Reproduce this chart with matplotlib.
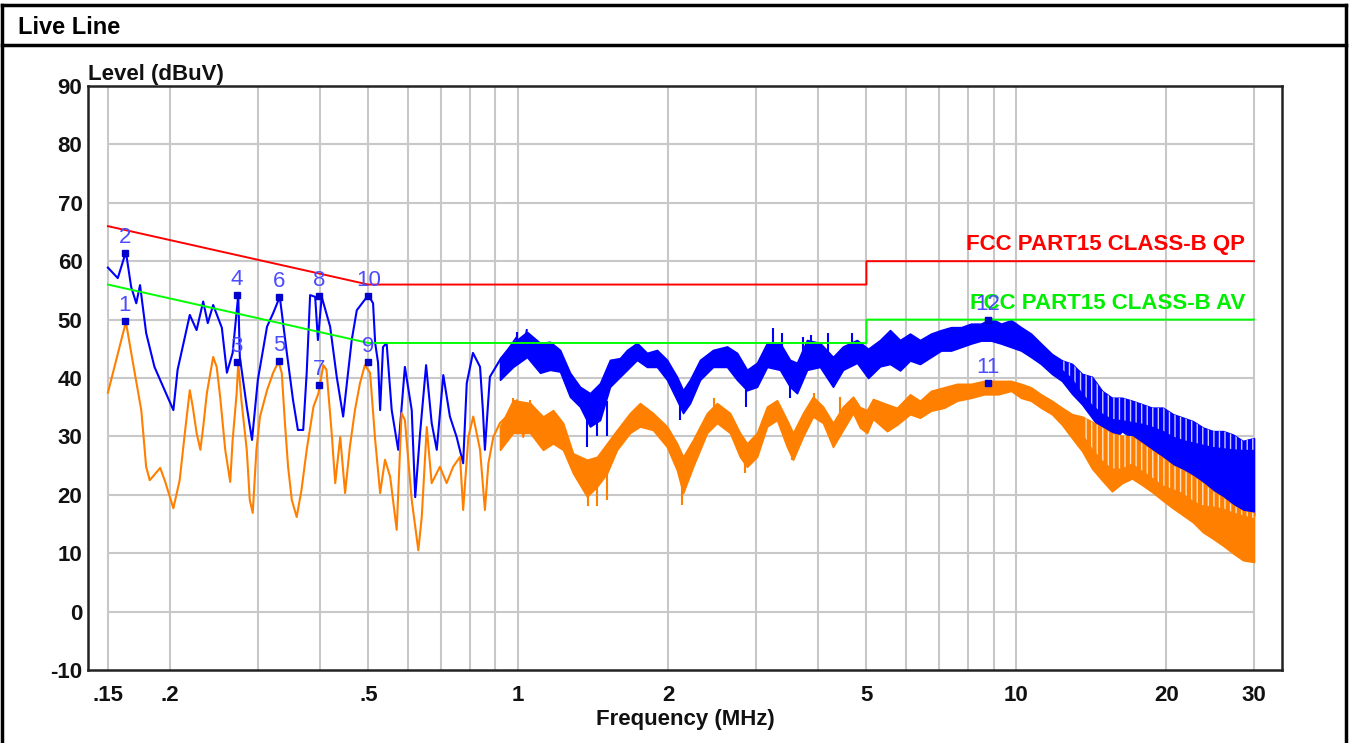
import numpy as np
import matplotlib
matplotlib.use("Agg")
import matplotlib.pyplot as plt
from matplotlib.lines import Line2D

plt.rcParams['font.family'] = ['Liberation Sans', 'DejaVu Sans']
plt.rcParams['axes.unicode_minus'] = False
plt.rcParams['hatch.linewidth'] = 1.0

# limit lines (MHz, dBuV)
qp_freq = [0.15, 0.5, 5, 5, 30]
qp_level = [66, 56, 56, 60, 60]
av_freq = [0.15, 0.5, 5, 5, 30]
av_level = [56, 46, 46, 50, 50]

# peak scan, low band read as a line
blue_freq = [0.150, 0.157, 0.163, 0.167, 0.171, 0.174, 0.179, 0.186, 0.203, 0.207,
             0.219, 0.226, 0.233, 0.238, 0.244, 0.254, 0.260, 0.267, 0.274, 0.276,
             0.285, 0.292, 0.300, 0.313, 0.322, 0.332, 0.343, 0.353, 0.361, 0.370,
             0.376, 0.382, 0.391, 0.396, 0.403, 0.419, 0.432, 0.445, 0.463, 0.474,
             0.500, 0.511, 0.516, 0.523, 0.528, 0.535, 0.544, 0.557, 0.574, 0.592,
             0.611, 0.621, 0.635, 0.653, 0.670, 0.686, 0.707, 0.729, 0.752, 0.775,
             0.788, 0.811, 0.838, 0.849, 0.857, 0.877, 0.919, 0.962, 0.993, 1.016, 1.040]
blue_level = [58.9, 57.1, 61.6, 55.6, 52.8, 55.9, 47.7, 41.9, 34.5, 41.4,
              50.8, 48.2, 53.1, 49.4, 52.5, 48.6, 40.9, 44.3, 54.2, 43.6,
              35.1, 29.4, 39.7, 48.8, 51.1, 53.9, 44.3, 36.2, 31.1, 31.1,
              40.9, 54.2, 53.9, 46.5, 53.9, 48.8, 40.2, 33.4, 46.5, 51.6,
              54.2, 52.8, 46.0, 42.6, 34.5, 45.3, 46.0, 34.5, 27.7, 41.9,
              34.5, 19.6, 30.5, 42.2, 32.3, 27.7, 40.5, 33.4, 29.9, 25.4,
              39.1, 44.3, 41.9, 34.5, 27.7, 40.2, 43.1, 45.3, 47.0, 43.1, 48.2]

# peak scan, dense part read as low / high envelope
blue_band_freq = [0.919, 0.976, 1.041, 1.106, 1.158, 1.213, 1.270, 1.330, 1.393, 1.459,
                  1.528, 1.600, 1.653, 1.731, 1.813, 1.899, 1.989, 2.083, 2.142, 2.212,
                  2.317, 2.460, 2.625, 2.749, 2.879, 3.015, 3.158, 3.353, 3.512, 3.627,
                  3.799, 4.034, 4.284, 4.487, 4.787, 5.04, 5.325, 5.577, 5.841, 6.116,
                  6.406, 6.740, 7.060, 7.394, 7.745, 8.110, 8.494, 8.896, 9.318, 9.758,
                  10.22, 10.70, 11.21, 11.79, 12.35, 12.94, 13.55, 14.19, 14.86, 15.56,
                  16.30, 17.07, 17.88, 18.72, 19.70, 20.63, 21.61, 22.63, 23.70, 24.82,
                  26.01, 27.23, 28.52, 30.0]
blue_band_lo = [39.7, 41.9, 43.6, 40.9, 41.4, 41.1, 36.8, 35.1, 31.7, 32.8,
                38.5, 40.2, 41.4, 43.1, 41.9, 41.9, 39.7, 36.2, 34.0, 35.7,
                39.7, 41.9, 41.9, 39.7, 37.9, 38.5, 41.9, 41.4, 38.5, 37.4,
                41.4, 41.9, 38.5, 41.4, 42.6, 40.0, 42.0, 42.4, 41.3, 43.0,
                42.4, 43.6, 44.7, 44.7, 45.3, 45.9, 46.4, 46.4, 45.9, 45.3,
                44.7, 43.6, 42.4, 40.7, 39.5, 37.3, 35.5, 33.2, 30.9, 29.2,
                30.9, 29.7, 28.0, 26.9, 25.1, 23.4, 22.3, 21.1, 20.0, 18.8,
                17.7, 17.1, 16.5, 16.5]
blue_band_hi = [43.4, 46.0, 47.9, 46.0, 46.2, 44.8, 40.9, 38.5, 37.4, 39.1,
                43.1, 43.4, 44.8, 46.0, 44.3, 44.8, 43.1, 40.2, 37.9, 39.7,
                43.1, 44.8, 45.4, 44.3, 41.4, 42.6, 46.0, 46.0, 43.1, 42.6,
                46.5, 46.0, 43.6, 45.4, 46.5, 45.0, 46.5, 48.2, 46.5, 47.6,
                46.5, 47.6, 48.2, 48.7, 48.7, 49.3, 49.3, 50.2, 49.3, 49.9,
                48.7, 47.6, 45.9, 44.1, 43.0, 42.4, 40.7, 40.2, 37.8, 36.6,
                36.6, 36.1, 35.5, 34.9, 34.9, 33.8, 33.2, 32.6, 31.5, 30.9,
                30.9, 30.3, 29.2, 29.7]
# above 12 MHz the top of the blue band is made of thin separate strokes
blue_streak_freq = blue_band_freq[54:]
blue_streak_base = [41.5, 40.0, 37.5, 35.5, 34.0, 33.0, 32.8, 32.5, 32.2, 31.7,
                    31.0, 30.0, 29.4, 29.0, 28.6, 28.2, 28.0, 27.8, 27.7, 27.7]

# single spikes out of the peak band: freq, from, to
blue_spike_freq = [0.993, 3.242, 3.38, 3.735, 3.87, 4.19, 4.67, 1.372, 1.44, 1.51, 2.11, 2.87, 3.51]
blue_spike_from = [45.0, 44.0, 44.0, 44.0, 44.0, 44.0, 44.0, 34.0, 34.0, 36.0, 36.0, 39.0, 40.0]
blue_spike_to = [47.9, 48.6, 47.7, 47.1, 47.4, 47.7, 47.7, 28.2, 30.0, 30.0, 32.8, 35.1, 36.6]

# average scan, low band read as a line
orange_freq = [0.150, 0.163, 0.168, 0.175, 0.179, 0.182, 0.191, 0.195, 0.203, 0.209,
               0.214, 0.219, 0.222, 0.226, 0.230, 0.233, 0.237, 0.244, 0.248, 0.252,
               0.258, 0.264, 0.267, 0.272, 0.274, 0.278, 0.285, 0.289, 0.293, 0.298,
               0.303, 0.313, 0.322, 0.330, 0.335, 0.340, 0.345, 0.351, 0.359, 0.367,
               0.376, 0.388, 0.397, 0.406, 0.412, 0.422, 0.429, 0.439, 0.449, 0.459,
               0.470, 0.481, 0.492, 0.504, 0.516, 0.528, 0.540, 0.553, 0.570, 0.583,
               0.592, 0.611, 0.630, 0.640, 0.655, 0.670, 0.696, 0.718, 0.740, 0.764,
               0.775, 0.794, 0.812, 0.838, 0.857, 0.871, 0.891, 0.919, 0.948, 0.977,
               0.993, 1.023, 1.056, 1.089]
orange_level = [37.5, 49.6, 43.1, 34.5, 24.8, 22.5, 24.6, 22.5, 17.7, 22.5,
                30.5, 37.9, 35.1, 30.6, 27.7, 31.6, 37.4, 43.6, 41.9, 36.8,
                27.7, 22.2, 29.4, 37.4, 42.6, 36.2, 27.7, 19.1, 16.9, 27.7,
                33.4, 37.9, 40.9, 42.8, 40.9, 32.3, 24.8, 19.1, 16.2, 20.8,
                27.7, 35.1, 37.4, 42.2, 41.4, 30.6, 22.0, 29.9, 20.3, 28.2,
                34.5, 39.1, 42.2, 40.9, 29.4, 20.3, 26.0, 23.1, 14.0, 34.0,
                32.8, 19.1, 10.5, 16.2, 31.6, 22.0, 24.8, 22.0, 24.8, 26.5,
                17.4, 29.9, 33.4, 27.7, 17.4, 25.4, 29.9, 32.3, 33.4, 34.5,
                36.2, 29.9, 35.7, 34.0]

orange_band_freq = [0.919, 0.976, 1.056, 1.121, 1.174, 1.230, 1.288, 1.374, 1.439, 1.507,
                    1.578, 1.676, 1.755, 1.864, 1.989, 2.083, 2.142, 2.243, 2.393, 2.506,
                    2.661, 2.787, 2.879, 3.015, 3.158, 3.307, 3.464, 3.561, 3.730, 3.906,
                    4.091, 4.284, 4.487, 4.700, 4.854, 5.014, 5.155, 5.500, 5.760, 6.116,
                    6.406, 6.740, 7.158, 7.602, 8.110, 8.612, 9.188, 9.758, 10.22, 10.70,
                    11.21, 11.79, 12.35, 12.94, 13.55, 14.19, 14.86, 15.56, 16.30, 17.07,
                    17.88, 18.72, 19.70, 20.63, 21.61, 22.63, 23.70, 24.82, 26.01, 27.23,
                    28.52, 30.0]
orange_band_lo = [27.7, 30.6, 30.6, 27.7, 28.8, 27.7, 23.7, 19.7, 21.4, 23.7,
                  27.7, 30.6, 31.7, 31.1, 28.2, 24.2, 20.3, 24.8, 30.6, 32.3,
                  30.6, 26.5, 24.8, 26.5, 31.7, 32.8, 28.2, 26.0, 30.0, 33.4,
                  32.3, 28.2, 31.1, 34.0, 31.5, 30.6, 33.0, 30.9, 32.0, 33.8,
                  33.2, 34.4, 34.9, 36.1, 36.6, 37.2, 37.2, 37.8, 36.6, 36.1,
                  34.9, 33.8, 32.0, 29.7, 27.5, 24.5, 22.5, 20.6, 22.0, 22.8,
                  21.7, 20.5, 19.0, 17.7, 16.5, 15.3, 13.6, 12.5, 11.3, 10.0,
                  8.8, 8.5]
orange_band_hi = [31.7, 36.2, 35.7, 33.4, 34.5, 32.3, 27.1, 26.0, 26.5, 28.8,
                  31.1, 34.0, 35.7, 34.0, 31.7, 28.8, 26.5, 29.4, 34.0, 35.7,
                  34.0, 30.6, 28.8, 30.6, 35.1, 36.2, 32.8, 30.6, 34.0, 36.8,
                  35.1, 32.3, 35.1, 36.8, 35.0, 34.5, 36.4, 35.5, 34.9, 37.2,
                  36.1, 37.8, 38.4, 39.0, 39.0, 39.5, 39.5, 39.5, 39.0, 38.4,
                  37.2, 36.1, 34.9, 33.8, 33.4, 32.5, 31.5, 30.5, 30.1, 30.0,
                  28.8, 27.6, 26.3, 25.0, 24.2, 23.2, 22.0, 20.6, 19.5, 18.2,
                  17.2, 16.9]
orange_streak_freq = orange_band_freq[54:]
orange_streak_base = [30.6, 28.0, 26.0, 24.5, 24.5, 25.4, 24.2, 23.0, 21.6, 21.0,
                      20.3, 19.0, 18.2, 18.0, 17.7, 17.0, 16.5, 16.0]

orange_spike_freq = [1.38, 1.44, 1.51, 2.13, 2.85, 3.54, 0.977, 1.056, 2.47, 3.92, 4.43]
orange_spike_from = [23.0, 23.0, 25.0, 24.0, 27.0, 29.0, 33.0, 33.0, 33.0, 34.0, 33.0]
orange_spike_to = [18.0, 18.0, 19.1, 18.3, 23.7, 26.0, 36.5, 36.2, 36.5, 37.4, 36.8]

# markers
marker_no = ['1', '2', '3', '4', '5', '6', '7', '8', '9', '10', '11', '12']
marker_freq = [0.162, 0.162, 0.272, 0.272, 0.331, 0.331, 0.398, 0.398, 0.500, 0.500, 8.77, 8.77]
marker_level = [49.8, 61.4, 42.7, 54.2, 42.9, 53.9, 38.8, 54.0, 42.7, 54.0, 39.1, 50.0]

grid_x = [0.15, 0.2, 0.3, 0.4, 0.5, 0.6, 0.7, 0.8, 0.9, 1, 2, 3, 4, 5, 6, 7, 8, 9, 10, 20, 30]
xtick_vals = [0.15, 0.2, 0.5, 1, 2, 5, 10, 20, 30]
xtick_text = ['.15', '.2', '.5', '1', '2', '5', '10', '20', '30']
ytick_vals = list(range(-10, 91, 10))

BLUE = '#0000ff'
ORANGE = '#ff8000'

fig = plt.figure(figsize=(13.5, 7.43), dpi=100)
ax = fig.add_axes([88 / 1350, 1 - 670 / 743, 1194 / 1350, 584 / 743])
ax.set_xscale('log')
ax.set_xlim(0.1368, 34.15)
ax.set_ylim(-10, 90)

# grid only over the measured span
ax.vlines(grid_x, -10, 90, color='#c8c8c8', lw=1.5, zorder=0)
ax.hlines(ytick_vals[1:-1], 0.15, 30, color='#c8c8c8', lw=1.5, zorder=0)

ax.plot(blue_freq, blue_level, color=BLUE, lw=1.5, zorder=2)
ax.fill_between(blue_band_freq, blue_band_lo, blue_band_hi, color=BLUE, lw=1.2, zorder=2)
ax.fill_between(blue_streak_freq, blue_streak_base, blue_band_hi[54:], facecolor=BLUE,
                edgecolor='#c8c8ff', hatch='|||', lw=0, zorder=2.1)
ax.vlines(blue_spike_freq, blue_spike_from, blue_spike_to, color=BLUE, lw=1.5, zorder=2)

ax.plot(orange_freq, orange_level, color=ORANGE, lw=1.5, zorder=2.5)
ax.fill_between(orange_band_freq, orange_band_lo, orange_band_hi, color=ORANGE, lw=1.2, zorder=2.5)
ax.fill_between(orange_streak_freq, orange_streak_base, orange_band_hi[54:], facecolor=ORANGE,
                edgecolor='#ffe2c4', hatch='|||', lw=0, zorder=2.6)
ax.vlines(orange_spike_freq, orange_spike_from, orange_spike_to, color=ORANGE, lw=1.5, zorder=2.5)

ax.plot(qp_freq, qp_level, color='#ff0000', lw=1.4, zorder=3)
ax.plot(av_freq, av_level, color='#00ff00', lw=1.4, zorder=3)
ax.text(28.8, 62.8, 'FCC PART15 CLASS-B QP', color='#ff0000', fontsize=16,
        fontweight='bold', ha='right', va='center', zorder=4)
ax.text(28.8, 52.8, 'FCC PART15 CLASS-B AV', color='#00ee00', fontsize=16,
        fontweight='bold', ha='right', va='center', zorder=4)

ax.plot(marker_freq, marker_level, 's', color='#0000cc', ms=4.5, zorder=5)
for n, f, l in zip(marker_no, marker_freq, marker_level):
    ax.annotate(n, (f, l), xytext=(0, 11), textcoords='offset points',
                ha='center', va='center', fontsize=16, color='#4b4bff', zorder=5)

ax.set_xticks(xtick_vals)
ax.set_xticklabels(xtick_text)
ax.set_yticks(ytick_vals)
ax.minorticks_off()
ax.tick_params(axis='both', length=0, labelsize=16)
ax.tick_params(axis='x', pad=11)
ax.tick_params(axis='y', pad=4)
for t in ax.get_xticklabels() + ax.get_yticklabels():
    t.set_fontweight('bold')
    t.set_color('#111111')
ax.set_xlabel('Frequency (MHz)', fontsize=16, fontweight='bold', labelpad=2, color='#111111')
for s in ax.spines.values():
    s.set_color('#222222')
    s.set_linewidth(1.8)

fig.text(88 / 1350, 1 - 80 / 743, 'Level (dBuV)', fontsize=16, fontweight='bold',
         color='#111111', va='baseline', ha='left')

# panel frame and title bar
fig.text(18 / 1350, 1 - 27 / 743, 'Live Line', fontsize=17, fontweight='bold', va='center', ha='left')
for xs, ys in [([0.0015, 0.0015], [0, 0.9926]), ([0.9974, 0.9974], [0, 0.9926]),
               ([0.0015, 0.9974], [0.9926, 0.9926]), ([0.0015, 0.9974], [0.9394, 0.9394])]:
    fig.add_artist(Line2D(xs, ys, transform=fig.transFigure, color='black', lw=2.5))

fig.savefig('out.png', dpi=100)
